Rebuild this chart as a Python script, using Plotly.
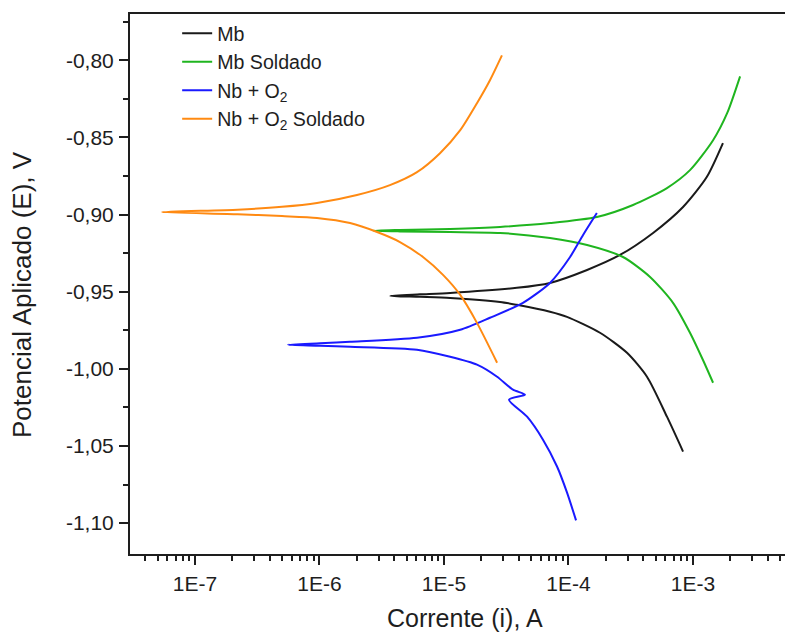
import plotly.graph_objects as go

# Polarization curves: current (A) vs applied potential (V),
# each listed along the sweep (cathodic end -> corrosion potential -> anodic end)
mb_i = [8.32e-4, 6.18e-4, 4.27e-4, 2.95e-4, 1.79e-4, 9.72e-5, 7.10e-5, 3.85e-5,
        2.82e-5, 1.12e-5, 6.4e-6, 3.7e-6, 6.4e-6, 1.12e-5, 3.85e-5, 7.10e-5,
        1.41e-4, 2.59e-4, 4.78e-4, 8.32e-4, 1.29e-3, 1.74e-3]
mb_e = [-1.0536, -1.0310, -1.0051, -0.9896, -0.9766, -0.9663, -0.9630, -0.9585,
        -0.9566, -0.9540, -0.9533, -0.9527, -0.9517, -0.9508, -0.9475, -0.9443,
        -0.9359, -0.9262, -0.9119, -0.8951, -0.8757, -0.8537]

mbs_i = [1.45e-3, 1.20e-3, 9.46e-4, 6.91e-4, 4.52e-4, 2.74e-4, 1.41e-4, 7.10e-5,
         2.82e-5, 1.12e-5, 4.43e-6, 2.69e-6, 4.43e-6, 1.12e-5, 2.82e-5, 7.10e-5,
         1.69e-4, 3.30e-4, 6.18e-4, 9.46e-4, 1.45e-3, 1.88e-3, 2.39e-3]
mbs_e = [-1.0090, -0.9941, -0.9766, -0.9572, -0.9404, -0.9275, -0.9197, -0.9152,
         -0.9119, -0.9113, -0.9109, -0.9105, -0.9100, -0.9093, -0.9080, -0.9055,
         -0.9016, -0.8938, -0.8828, -0.8712, -0.8518, -0.8343, -0.8104]

nbo_i = [1.15e-4, 9.72e-5, 8.09e-5, 6.24e-5, 4.65e-5, 3.33e-5, 4.47e-5, 3.58e-5,
         2.67e-5, 1.84e-5, 1.12e-5, 6.07e-6, 1.76e-6, 1.01e-6, 5.58e-7, 1.01e-6,
         1.76e-6, 6.07e-6, 1.35e-5, 2.34e-5, 4.31e-5, 7.10e-5, 1.03e-4, 1.31e-4,
         1.69e-4]
nbo_e = [-1.0982, -1.0801, -1.0633, -1.0459, -1.0310, -1.0200, -1.0167, -1.0135,
         -1.0051, -0.9973, -0.9922, -0.9876, -0.9857, -0.9850, -0.9844, -0.9834,
         -0.9825, -0.9799, -0.9747, -0.9669, -0.9572, -0.9443, -0.9275, -0.9132,
         -0.8990]

nbos_i = [2.67e-5, 1.84e-5, 1.35e-5, 9.82e-6, 6.78e-6, 4.43e-6, 2.90e-6, 1.76e-6,
          9.55e-7, 5.0e-7, 2.2e-7, 5.4e-8, 2.2e-7, 5.0e-7, 9.55e-7, 2.0e-6,
          3.68e-6, 6.07e-6, 9.29e-6, 1.35e-5, 1.84e-5, 2.34e-5, 2.92e-5]
nbos_e = [-0.9960, -0.9702, -0.9521, -0.9391, -0.9275, -0.9178, -0.9113, -0.9055,
          -0.9022, -0.9010, -0.8998, -0.8984, -0.8968, -0.8950, -0.8925, -0.8873,
          -0.8809, -0.8725, -0.8602, -0.8453, -0.8278, -0.8129, -0.7968]

series = [
    ("Mb", mb_i, mb_e, "#1a1a1a"),
    ("Mb Soldado", mbs_i, mbs_e, "#1fb51f"),
    ("Nb + O<sub>2</sub>", nbo_i, nbo_e, "#1a1aff"),
    ("Nb + O<sub>2</sub> Soldado", nbos_i, nbos_e, "#ff8a12"),
]

x_tick_vals = [1e-7, 1e-6, 1e-5, 1e-4, 1e-3]
x_tick_text = ["1E-7", "1E-6", "1E-5", "1E-4", "1E-3"]
y_tick_vals = [-1.10, -1.05, -1.00, -0.95, -0.90, -0.85, -0.80]
y_tick_text = ["-1,10", "-1,05", "-1,00", "-0,95", "-0,90", "-0,85", "-0,80"]
x_title = "Corrente (i), A"
y_title = "Potencial Aplicado (E), V"

font_family = "Liberation Sans, Arial, sans-serif"
ink = "#1e1e1e"

fig = go.Figure()
for name, cur, pot, color in series:
    fig.add_trace(go.Scatter(x=cur, y=pot, mode="lines", name=name,
                             line=dict(color=color, width=2, shape="spline",
                                       smoothing=0.7)))

fig.update_layout(
    width=785, height=632,
    margin=dict(l=130, r=0, t=14, b=78),
    plot_bgcolor="white", paper_bgcolor="white",
    font=dict(family=font_family, color=ink),
    showlegend=True,
    legend=dict(x=0.072, y=1.0, xanchor="left", yanchor="top",
                bgcolor="rgba(0,0,0,0)", font=dict(size=19.6, color=ink),
                tracegroupgap=0),
)

# Axis titles placed as annotations so they can sit off-centre
fig.add_annotation(text=x_title, xref="paper", yref="paper", x=0.5, y=0,
                   xshift=7, yshift=-64, xanchor="center", yanchor="middle",
                   showarrow=False, font=dict(size=25, color=ink))
fig.add_annotation(text=y_title, xref="paper", yref="paper", x=0, y=0.5,
                   xshift=-108, yshift=-11, xanchor="center", yanchor="middle",
                   textangle=-90, showarrow=False, font=dict(size=26, color=ink))

fig.update_xaxes(
    type="log", range=[-7.522, -2.261],
    tickvals=x_tick_vals, ticktext=x_tick_text,
    ticks="outside", ticklen=9, tickwidth=2, tickcolor=ink,
    minor=dict(ticks="outside", ticklen=5, tickwidth=1.5, tickcolor=ink,
               dtick="D1", showgrid=False),
    showline=True, linewidth=2, linecolor=ink, mirror=True,
    showgrid=False, zeroline=False,
    tickfont=dict(size=21, color=ink),
    ticklabelstandoff=1,
)
fig.update_yaxes(
    range=[-1.12, -0.77],
    tickvals=y_tick_vals, ticktext=y_tick_text,
    ticks="outside", ticklen=9, tickwidth=2, tickcolor=ink,
    minor=dict(ticks="outside", ticklen=5, tickwidth=1.5, tickcolor=ink,
               dtick=0.025, tick0=-0.8, showgrid=False),
    showline=True, linewidth=2, linecolor=ink,
    showgrid=False, zeroline=False,
    tickfont=dict(size=21, color=ink),
    ticklabelstandoff=1,
)

fig.write_html("out.html")
